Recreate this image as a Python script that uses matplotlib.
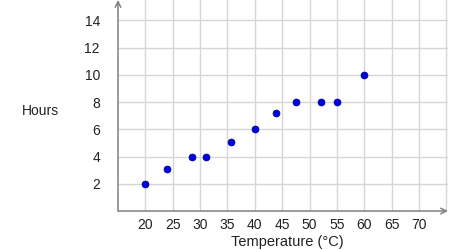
import matplotlib
matplotlib.use('Agg')
from matplotlib import pyplot as plt
import numpy as np

plt.rcParams['font.family'] = ['Liberation Sans', 'DejaVu Sans']

# Data
temperature = [20, 24, 28.6, 31.1, 35.7, 40, 43.8, 47.6, 52.1, 55.1, 60]
hours = [2, 3.1, 4, 4, 5.05, 6, 7.2, 8, 8, 8, 10]
x_ticks = [20, 25, 30, 35, 40, 45, 50, 55, 60, 65, 70]
y_ticks = [2, 4, 6, 8, 10, 12, 14]

fig = plt.figure(figsize=(4.5, 2.5), dpi=100)
ax = fig.add_axes([118/450, 39/250, 330/450, 211/250])

xmin, xmax = 15, 75.3
ymin, ymax = 0, 15.5
ax.set_xlim(xmin, xmax)
ax.set_ylim(ymin, ymax)

# grid
for gx in range(20, 80, 5):
    ax.axvline(gx, color='#d6d6d6', lw=1, zorder=0)
for gy in range(2, 16, 2):
    ax.axhline(gy, color='#d6d6d6', lw=1, zorder=0)

for s in ax.spines.values():
    s.set_visible(False)

# axes with arrows
ax.annotate('', xy=(1.0, 0), xytext=(0, 0), xycoords='axes fraction',
            arrowprops=dict(arrowstyle='->', color='#808080', lw=1.1,
                            shrinkA=0, shrinkB=0))
ax.annotate('', xy=(0, 1.0), xytext=(0, 0), xycoords='axes fraction',
            arrowprops=dict(arrowstyle='->', color='#808080', lw=1.1,
                            shrinkA=0, shrinkB=0))

ax.scatter(temperature, hours, s=24, color='#0000e6', edgecolors='#00008b',
           linewidths=0.6, zorder=3, clip_on=False)

ax.set_xticks(x_ticks)
ax.set_yticks(y_ticks)
ax.set_xticklabels([str(t) for t in x_ticks])
ax.set_yticklabels([str(t) for t in y_ticks])
ax.tick_params(axis='x', length=0, pad=5, labelsize=10, colors='#222222')
ax.tick_params(axis='y', length=0, pad=13, labelsize=10, colors='#222222')

fig.text(40/450, 1 - 111/250, 'Hours', ha='center', va='center', fontsize=10, color='#222222')
fig.text(287/450, 1 - 242/250, 'Temperature (°C)', ha='center', va='center', fontsize=10.5,
         color='#222222')

fig.savefig('out.png', dpi=100)
